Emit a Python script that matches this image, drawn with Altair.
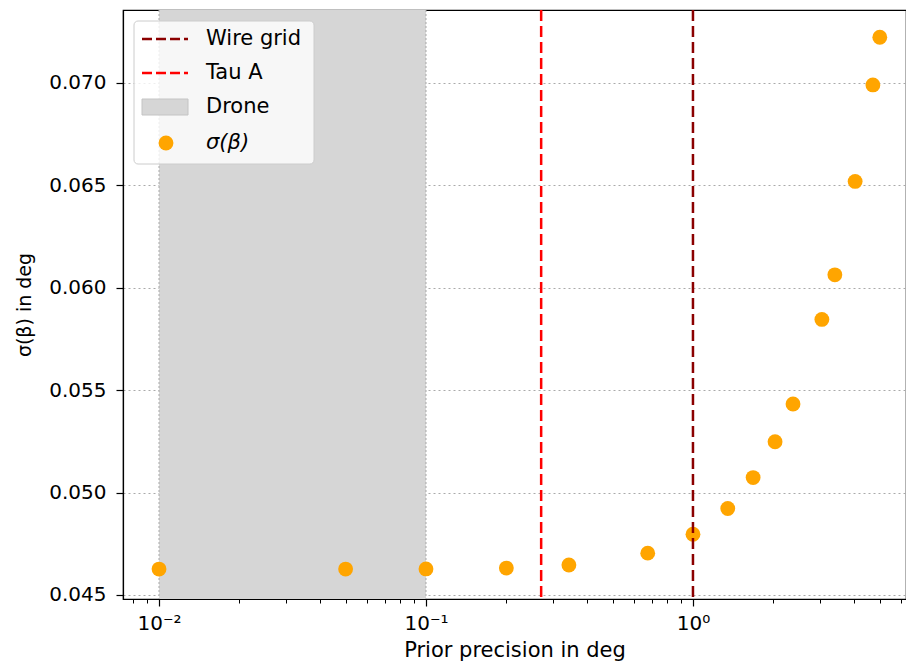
import altair as alt
import pandas as pd

# data
prior_precision = [0.01, 0.05, 0.1, 0.2, 0.343, 0.677, 1.0, 1.35, 1.68, 2.03, 2.37, 3.04, 3.40, 4.05, 4.72, 5.01]
sigma_beta = [0.04626, 0.04626, 0.04627, 0.04631, 0.04646, 0.04704, 0.04796, 0.04922,
              0.05073, 0.05248, 0.05432, 0.05845, 0.06063, 0.06519, 0.06990, 0.07223]
wire_grid_x = [1.0]
tau_a_x = [0.27]
drone_span = [0.01, 0.1]
x_major = [0.01, 0.1, 1.0]
x_minor = [0.008, 0.009, 0.02, 0.03, 0.04, 0.05, 0.06, 0.07, 0.08, 0.09,
           0.2, 0.3, 0.4, 0.5, 0.6, 0.7, 0.8, 0.9, 2, 3, 4, 5, 6]
y_ticks = [0.045, 0.050, 0.055, 0.060, 0.065, 0.070]
legend_labels = ["Wire grid", "Tau A", "Drone", "σ(β)"]

x_domain = [0.00733, 6.28]
y_domain = [0.0448, 0.07356]
FONT = "DejaVu Sans"
LFS = 20
TFS = 21
GFS = 21

pts = pd.DataFrame({"x": prior_precision, "y": sigma_beta})
span = pd.DataFrame({"x": [drone_span[0]], "x2": [drone_span[1]]})
span_edges = pd.DataFrame({"x": drone_span})
wire = pd.DataFrame({"x": wire_grid_x})
tau = pd.DataFrame({"x": tau_a_x})

xscale = alt.Scale(type="log", domain=x_domain, nice=False, zero=False)
yscale = alt.Scale(domain=y_domain, nice=False, zero=False)

major_axis = alt.Axis(
    orient="bottom", values=x_major, title="Prior precision in deg",
    labelExpr="datum.value < 0.05 ? '10⁻²' : (datum.value < 0.5 ? '10⁻¹' : '10⁰')",
    tickSize=7, tickWidth=1.2, tickColor="black", labelPadding=7, titlePadding=6,
    grid=False, domain=True, domainColor="black", domainWidth=1.2,
)
minor_axis = alt.Axis(
    orient="bottom", values=x_minor, labels=False, title=None,
    tickSize=4, tickWidth=1, tickColor="black", grid=False, domain=False,
)

span_layer = alt.Chart(span).mark_rect(color="#d6d6d6").encode(
    x=alt.X("x:Q", scale=xscale, axis=minor_axis), x2="x2:Q"
)
edge_layer = alt.Chart(span_edges).mark_rule(color="#a8a8a8", strokeDash=[2, 2], strokeWidth=1).encode(
    x=alt.X("x:Q", scale=xscale, axis=None)
)
pts_layer = alt.Chart(pts).mark_circle(color="#FFA500", opacity=1, size=220).encode(
    x=alt.X("x:Q", scale=xscale, axis=major_axis),
    y=alt.Y("y:Q", scale=yscale, axis=alt.Axis(
        values=y_ticks, format=".3f", title="σ(β) in deg", titleFontSize=19, tickSize=7, tickWidth=1.2,
        tickColor="black", labelPadding=10, titlePadding=14,
        grid=True, gridDash=[2, 3], gridColor="#aaaaaa", gridWidth=1,
        domainColor="black", domainWidth=1.2)),
)
tau_layer = alt.Chart(tau).mark_rule(color="red", strokeDash=[11, 5], strokeWidth=2.5).encode(
    x=alt.X("x:Q", scale=xscale, axis=None)
)
wire_layer = alt.Chart(wire).mark_rule(color="#8B0000", strokeDash=[11, 5], strokeWidth=2.5).encode(
    x=alt.X("x:Q", scale=xscale, axis=None)
)

# legend (matplotlib-style box)
dummy = pd.DataFrame({"a": [0]})
leg_box = alt.Chart(dummy).mark_rect(fill="white", fillOpacity=0.8, stroke="#cccccc",
                                     strokeWidth=1, cornerRadius=4).encode(
    x=alt.value(11), x2=alt.value(191), y=alt.value(11), y2=alt.value(154)
)
row_y = [29, 63, 97, 133]
leg_wire = alt.Chart(dummy).mark_rule(color="#8B0000", strokeDash=[10, 4], strokeWidth=2.5).encode(
    x=alt.value(19), x2=alt.value(65), y=alt.value(row_y[0])
)
leg_tau = alt.Chart(dummy).mark_rule(color="red", strokeDash=[10, 4], strokeWidth=2.5).encode(
    x=alt.value(19), x2=alt.value(65), y=alt.value(row_y[1])
)
leg_drone = alt.Chart(dummy).mark_rect(fill="#d6d6d6", stroke="#c4c4c4", strokeWidth=1).encode(
    x=alt.value(19), x2=alt.value(65), y=alt.value(row_y[2] - 8), y2=alt.value(row_y[2] + 8)
)
leg_pt = alt.Chart(dummy).mark_circle(color="#FFA500", opacity=1, size=220).encode(
    x=alt.value(43), y=alt.value(row_y[3])
)
leg_text = []
for lab, yy in zip(legend_labels, row_y):
    leg_text.append(
        alt.Chart(dummy).mark_text(text=lab, align="left", baseline="middle", font=FONT,
                                   fontSize=GFS, color="black",
                                   fontStyle="italic" if lab.startswith("σ") else "normal").encode(
            x=alt.value(83), y=alt.value(yy)
        )
    )

chart = alt.layer(
    span_layer, edge_layer, pts_layer, tau_layer, wire_layer,
    leg_box, leg_wire, leg_tau, leg_drone, leg_pt, *leg_text
).resolve_axis(x="independent").resolve_scale(x="shared").properties(
    width=783, height=589,
    autosize=alt.AutoSizeParams(type="none"),
    padding={"left": 115, "top": 2, "right": 0, "bottom": 63},
).configure_view(stroke="black", strokeWidth=1.2).configure_axis(
    labelFont=FONT, titleFont=FONT, labelFontSize=LFS, titleFontSize=TFS,
    labelColor="black", titleColor="black", titleFontWeight="normal",
)

chart.save("out.html", embed_options={"renderer": "svg", "actions": False})
